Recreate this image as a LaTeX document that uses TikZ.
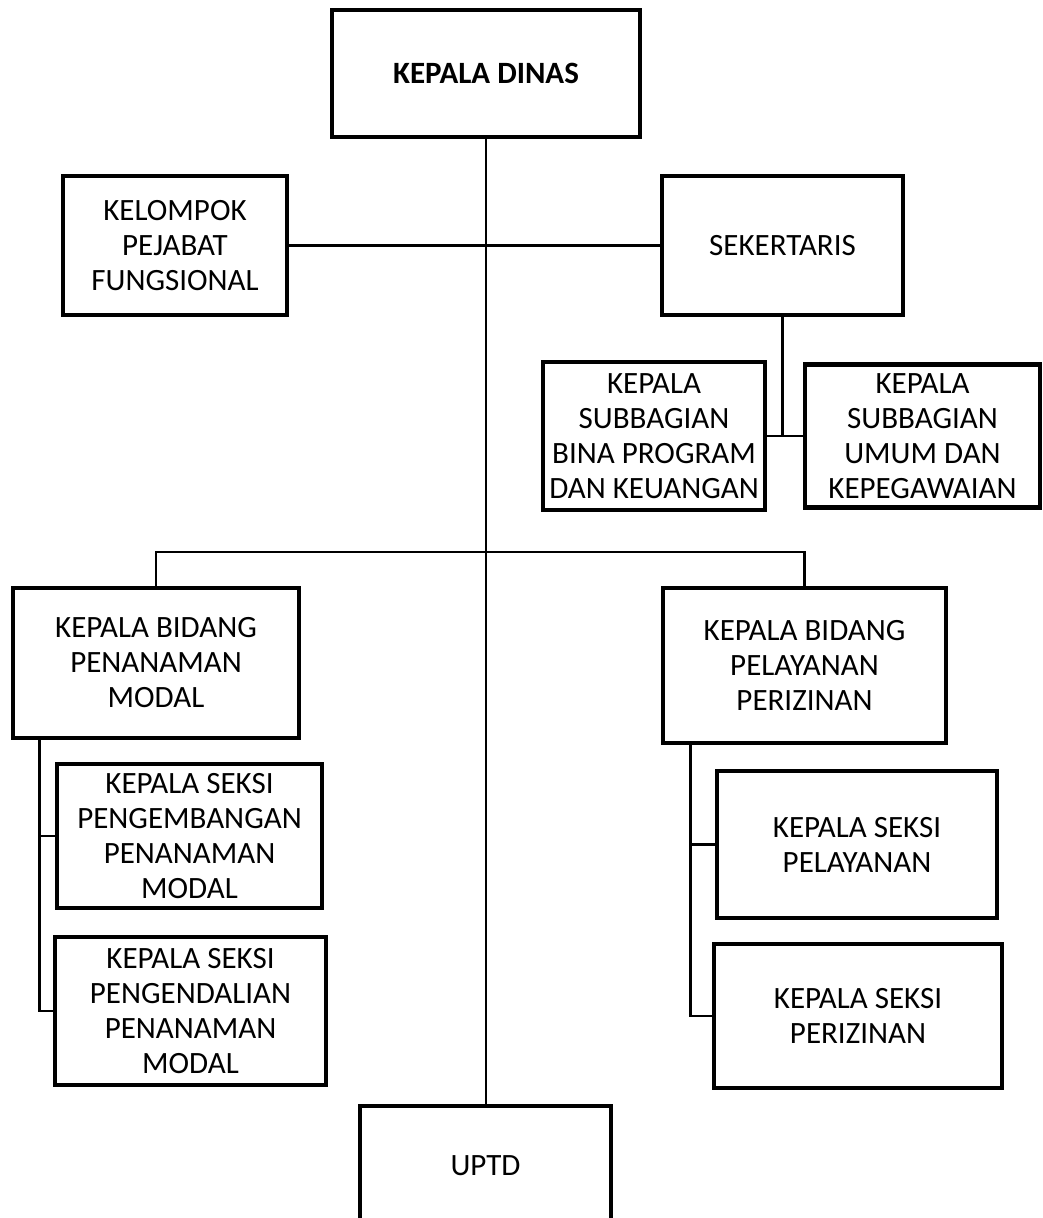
\documentclass[tikz,border=0pt]{standalone}
\usepackage{fontspec}
\setmainfont{Carlito}
\usepackage{tikz}
\usetikzlibrary{calc}

\begin{document}
\begin{tikzpicture}[x=0.5pt, y=-0.5pt,
        kotak/.style={draw, line width=2.2pt, align=center, inner sep=0pt, font=\fontsize{15.5}{17.5}\selectfont},
        garis/.style={line width=1.4pt}]
            \clip (0,0) rectangle (1042,1218);
            \node[kotak, minimum width=154pt, minimum height=63.5pt, font=\fontsize{15.5}{17.5}\selectfont\bfseries] (kadis) at (486,73.5) {KEPALA DINAS};
            \node[kotak, minimum width=112pt, minimum height=69.5pt] (kjf) at (175,245.5) {KELOMPOK\\PEJABAT\\FUNGSIONAL};
            \node[kotak, minimum width=120.5pt, minimum height=69.5pt] (sek) at (782.5,245.5) {SEKERTARIS};
            \node[kotak, minimum width=111pt, minimum height=74pt] (sbp) at (654,436) {KEPALA\\SUBBAGIAN\\BINA PROGRAM\\DAN KEUANGAN};
            \node[kotak, minimum width=117.5pt, minimum height=71.5pt] (sbu) at (922.5,436) {KEPALA\\SUBBAGIAN\\UMUM DAN\\KEPEGAWAIAN};
            \node[kotak, minimum width=143pt, minimum height=75pt] (bpm) at (156,663) {KEPALA BIDANG\\PENANAMAN\\MODAL};
            \node[kotak, minimum width=141.5pt, minimum height=77.5pt] (bpp) at (804.5,665.5) {KEPALA BIDANG\\PELAYANAN\\PERIZINAN};
            \node[kotak, minimum width=132.5pt, minimum height=72pt] (skp1) at (189.5,836) {KEPALA SEKSI\\PENGEMBANGAN\\PENANAMAN\\MODAL};
            \node[kotak, minimum width=135.5pt, minimum height=74pt] (skp2) at (190.5,1011) {KEPALA SEKSI\\PENGENDALIAN\\PENANAMAN\\MODAL};
            \node[kotak, minimum width=140pt, minimum height=73.5pt] (spl) at (857,844.5) {KEPALA SEKSI\\PELAYANAN};
            \node[kotak, minimum width=144pt, minimum height=72pt] (spz) at (858,1016) {KEPALA SEKSI\\PERIZINAN};
            \node[kotak, minimum width=125.5pt, minimum height=80pt, text depth=20pt] (uptd) at (485.5,1186) {UPTD};
            \coordinate (cab) at (486,552);
            \coordinate (j1) at (sek.south |- sbp.east);
            \draw[garis] (kadis.south) -- (kadis.south |- uptd.north);
            \draw[garis] (kjf.east) -- (sek.west);
            \draw[garis] (sek.south) -- (j1);
            \draw[garis] (sbp.east) -- (sbu.west);
            \draw[garis] (bpm.north) |- (cab) -| (bpp.north);
            \draw[garis] ([xshift=14.5pt]bpm.south west) |- (skp1.west);
            \draw[garis] ([xshift=14.5pt]bpm.south west) |- (skp2.west);
            \draw[garis] ([xshift=15pt]bpp.south west) |- (spl.west);
            \draw[garis] ([xshift=15pt]bpp.south west) |- (spz.west);
        \end{tikzpicture}
\end{document}
